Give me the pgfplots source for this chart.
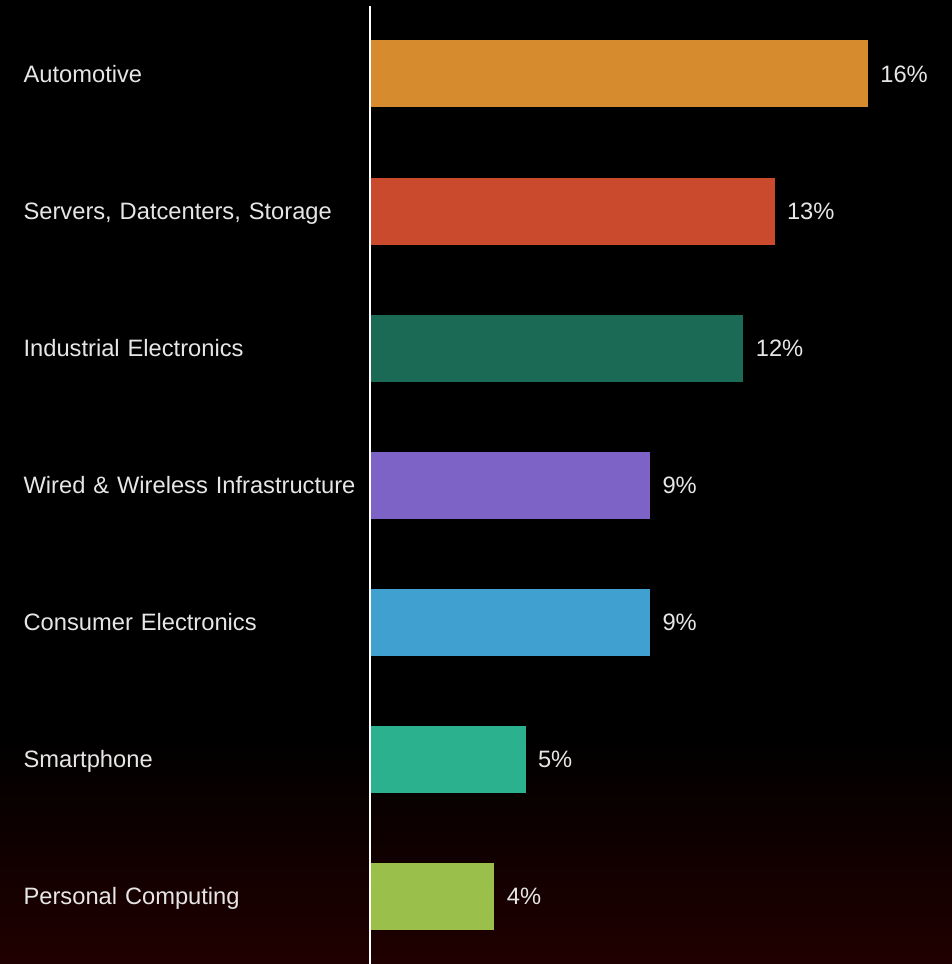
\documentclass[border=0pt]{standalone}
\usepackage{pgfplots}
\pgfplotsset{compat=1.18}
\usepackage{fontspec}
\setmainfont{Liberation Sans}
\definecolor{cAuto}{HTML}{D68C2E}
\definecolor{cServ}{HTML}{C94A2D}
\definecolor{cInd}{HTML}{1B6A56}
\definecolor{cWire}{HTML}{7D63C6}
\definecolor{cCons}{HTML}{40A0D0}
\definecolor{cSmart}{HTML}{2BB18E}
\definecolor{cPC}{HTML}{9BBF4B}
\definecolor{txt}{HTML}{E6E6E6}
\definecolor{bgbot}{HTML}{220000}
\begin{document}
\begin{tikzpicture}[x=1pt,y=1pt]
\useasboundingbox (0,0) rectangle (476,482);
\begin{scope}
\clip (0,0) rectangle (476,482);
\fill[black] (-5,100) rectangle (481,487);
\shade[top color=black,bottom color=bgbot] (-5,-5) rectangle (481,114);
\end{scope}
\begin{axis}[
  at={(185pt,0pt)}, anchor=south west,
  scale only axis, width=291pt, height=482pt,
  xmin=0, xmax=18.699,
  ymin=-0.540, ymax=6.496, y dir=reverse,
  axis line style={draw=none},
  xtick=\empty,
  ytick={0,1,2,3,4,5,6},
  yticklabels={Automotive,{Servers, Datcenters, Storage},Industrial Electronics,{Wired \& Wireless Infrastructure},Consumer Electronics,Smartphone,Personal Computing},
  major tick length=0pt,
  y tick style={draw=none},
  yticklabel style={anchor=base east, yshift=-4.3pt, text width=173pt, align=left, inner sep=0pt, text=txt, font=\fontsize{11.85}{14}\selectfont},
  xbar, bar shift=0pt, bar width=0.489,
  every axis plot/.append style={draw=none},
  /pgf/number format/assume math mode=true,
  nodes near coords={\pgfmathprintnumber{\pgfplotspointmeta}\%},
  nodes near coords style={anchor=base west, yshift=-4.3pt, inner sep=0pt, xshift=6pt, text=txt, font=\fontsize{11.85}{14}\selectfont},
  clip=false,
]
\addplot[fill=cAuto] coordinates {(16,0)};
\addplot[fill=cServ] coordinates {(13,1)};
\addplot[fill=cInd] coordinates {(12,2)};
\addplot[fill=cWire] coordinates {(9,3)};
\addplot[fill=cCons] coordinates {(9,4)};
\addplot[fill=cSmart] coordinates {(5,5)};
\addplot[fill=cPC] coordinates {(4,6)};
\draw[white, line width=0.75pt] (axis cs:0,-0.496) -- (axis cs:0,6.496);
\end{axis}
\end{tikzpicture}
\end{document}
